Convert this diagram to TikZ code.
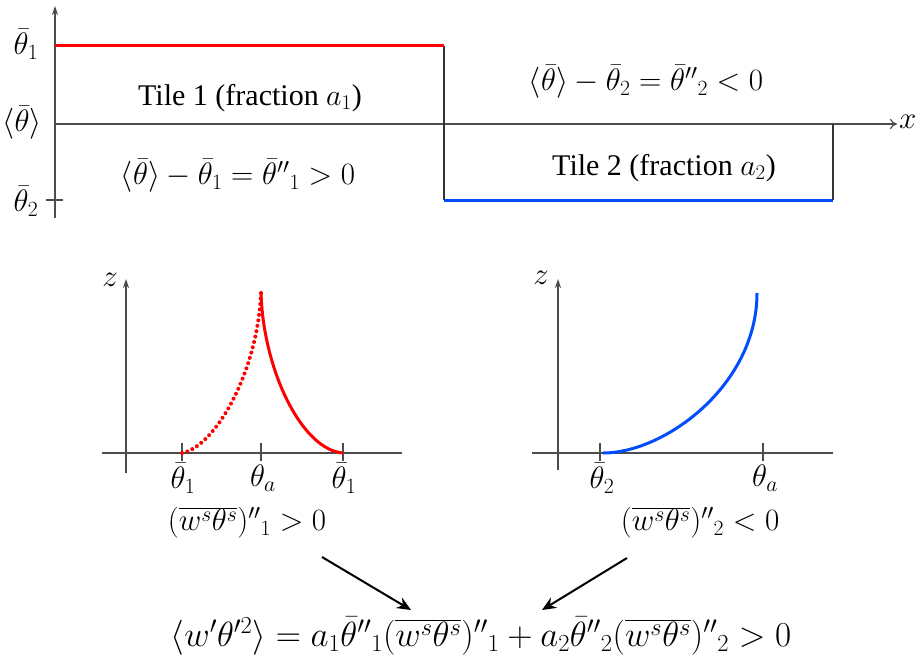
\RequirePackage{fix-cm}
\documentclass[tikz,border=0pt]{standalone}
\usepackage{fontspec}
\setmainfont{Liberation Serif}
\usetikzlibrary{arrows.meta}
\tikzset{
  lbl/.style={inner sep=0pt, font=\fontsize{30}{34}\selectfont},
  mlbl/.style={inner sep=0pt, font=\fontsize{31}{35}\selectfont},
  axisline/.style={draw=black!70, line width=1.2pt},
  tickline/.style={draw=black!70, line width=1.2pt},
  tilered/.style={draw=red, line width=3pt},
  tileblue/.style={draw=blue!70!cyan, line width=3pt},
  flowarrow/.style={draw=black, line width=2pt, -{Stealth[length=14pt,width=12pt]}},
}
\begin{document}
\begin{tikzpicture}[x=1pt,y=-1pt]
\useasboundingbox (0,0) rectangle (918,661);
% ---------- top panel ----------
\coordinate (yb) at (55,218);
\coordinate (yt) at (55,6);
\coordinate (xl) at (55,124);
\coordinate (xr) at (897,124);
\draw[axisline, -{Stealth[length=9pt,width=6pt]}] (yb) -- (yt);
\draw[axisline, -{To[length=7pt,width=10pt]}] (xl) -- (xr);
\node[mlbl, anchor=west] (xlab) at (899,122) {$x$};
\coordinate (t2a) at (46,200);
\coordinate (t2b) at (63,200);
\draw[tickline] (t2a) -- (t2b);
\coordinate (r1) at (55,46);
\coordinate (r2) at (444,46);
\coordinate (b1) at (444,200);
\coordinate (b2) at (833,200);
\coordinate (v2t) at (833,124);
\draw[draw=black!80, line width=1.2pt] (r2) -- (b1);
\draw[draw=black!80, line width=1.2pt] (v2t) -- (b2);
\draw[tilered] (r1) -- (r2);
\draw[tileblue] (b1) -- (b2);
\node[mlbl] (lt1) at (26,44) {$\bar\theta_1$};
\node[mlbl] (ltm) at (22,123) {$\langle\bar\theta\rangle$};
\node[mlbl] (lt2) at (26,201) {$\bar\theta_2$};
\node[lbl] (tile1) at (250,98) {Tile 1 (fraction $a_1$)};
\node[mlbl] (eq1) at (238,176) {$\langle\bar\theta\rangle-\bar\theta_1=\bar\theta''{}_1>0$};
\node[mlbl] (eq2) at (646,82) {$\langle\bar\theta\rangle-\bar\theta_2=\bar\theta''{}_2<0$};
\node[lbl] (tile2) at (664,168) {Tile 2 (fraction $a_2$)};
% ---------- left small plot ----------
\coordinate (lzb) at (126,473);
\coordinate (lzt) at (126,279);
\coordinate (lxa) at (102,453);
\coordinate (lxb) at (402,453);
\draw[axisline, -{Stealth[length=9pt,width=6pt]}] (lzb) -- (lzt);
\draw[axisline] (lxa) -- (lxb);
\node[mlbl] (lz) at (110,280) {$z$};
\foreach \n/\xx in {la/182,lb/261,lc/343}{
  \coordinate (\n t) at (\xx,443);
  \coordinate (\n b) at (\xx,461);
  \draw[tickline] (\n t) -- (\n b);
}
\coordinate (lp0) at (182,453);
\coordinate (lp1) at (261,292);
\coordinate (lp2) at (343,453);
\draw[red, line width=4pt, line cap=round, dash pattern=on 0pt off 5.5pt]
  (lp0) .. controls (215,447) and (258,372) .. (lp1);
\draw[red, line width=3pt]
  (lp1) .. controls (263,370) and (302,450) .. (lp2);
\node[mlbl] (lla) at (183,478) {$\bar\theta_1$};
\node[mlbl] (llb) at (263,478) {$\theta_a$};
\node[mlbl] (llc) at (344,478) {$\bar\theta_1$};
\node[mlbl] (lres) at (247,523) {$(\overline{w^s\theta^s})''{}_1>0$};
% ---------- right small plot ----------
\coordinate (rzb) at (558,470);
\coordinate (rzt) at (558,279);
\coordinate (rxa) at (532,453);
\coordinate (rxb) at (833,453);
\draw[axisline, -{Stealth[length=9pt,width=6pt]}] (rzb) -- (rzt);
\draw[axisline] (rxa) -- (rxb);
\node[mlbl] (rz) at (541,278) {$z$};
\foreach \n/\xx in {ra/600,rb/763}{
  \coordinate (\n t) at (\xx,443);
  \coordinate (\n b) at (\xx,461);
  \draw[tickline] (\n t) -- (\n b);
}
\coordinate (rp0) at (603,453);
\coordinate (rp1) at (757,293);
\draw[tileblue] (rp0) .. controls (665,453) and (757,385) .. (rp1);
\node[mlbl] (rla) at (602,478) {$\bar\theta_2$};
\node[mlbl] (rlb) at (765,478) {$\theta_a$};
\node[mlbl] (rres) at (700,523) {$(\overline{w^s\theta^s})''{}_2<0$};
% ---------- bottom ----------
\node[mlbl, font=\fontsize{35}{39}\selectfont] (final) at (481,636) {$\langle w'\theta'^2\rangle=a_1\bar\theta''{}_1(\overline{w^s\theta^s})''{}_1+a_2\bar\theta''{}_2(\overline{w^s\theta^s})''{}_2>0$};
\coordinate (a1s) at (322,557);
\coordinate (a1e) at (411,610);
\coordinate (a2s) at (627,558);
\coordinate (a2e) at (542,610);
\draw[flowarrow] (a1s) -- (a1e);
\draw[flowarrow] (a2s) -- (a2e);
\end{tikzpicture}
\end{document}
